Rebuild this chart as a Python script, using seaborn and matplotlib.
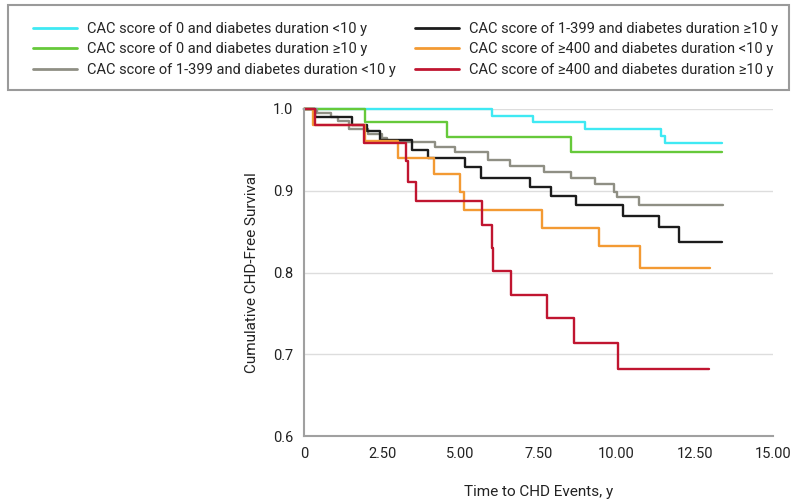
import matplotlib
matplotlib.use("Agg")
import matplotlib.pyplot as plt
from matplotlib.patches import Rectangle
import seaborn as sns
import pandas as pd

# Kaplan-Meier style step curves
labels = [
    "CAC score of 0 and diabetes duration <10 y",
    "CAC score of 0 and diabetes duration \u226510 y",
    "CAC score of 1-399 and diabetes duration <10 y",
    "CAC score of 1-399 and diabetes duration \u226510 y",
    "CAC score of \u2265400 and diabetes duration <10 y",
    "CAC score of \u2265400 and diabetes duration \u226510 y",
]
colors = ["#3fe9f3", "#66c93a", "#8f8f84", "#1c1c1c", "#f39a33", "#c01530"]

cac0_lt10_t = [0, 6.0, 7.33, 8.98, 11.43, 11.55, 13.38]
cac0_lt10_s = [1.0, 0.992, 0.984, 0.976, 0.967, 0.959, 0.959]

cac0_ge10_t = [0, 1.95, 4.57, 8.53, 13.38]
cac0_ge10_s = [1.0, 0.984, 0.966, 0.947, 0.947]

cac1_lt10_t = [0, 0.4, 0.85, 1.1, 1.45, 2.05, 2.5, 2.65, 4.19, 4.83, 5.88,
               6.59, 7.66, 8.53, 9.3, 9.9, 10.0, 10.7, 13.4]
cac1_lt10_s = [1.0, 0.995, 0.99, 0.985, 0.975, 0.97, 0.964, 0.96, 0.954, 0.948,
               0.938, 0.930, 0.923, 0.915, 0.908, 0.899, 0.892, 0.883, 0.883]

cac1_ge10_t = [0, 0.35, 1.52, 2.0, 2.43, 3.47, 3.97, 5.15, 5.65, 7.23, 7.89,
               8.69, 10.19, 11.35, 12.0, 13.37]
cac1_ge10_s = [1.0, 0.99, 0.981, 0.973, 0.962, 0.95, 0.94, 0.929, 0.916, 0.905,
               0.893, 0.882, 0.869, 0.856, 0.837, 0.837]

cac400_lt10_t = [0, 0.28, 1.95, 3.02, 4.16, 4.99, 5.12, 7.6, 9.43, 10.74, 12.98]
cac400_lt10_s = [1.0, 0.98, 0.961, 0.94, 0.92, 0.898, 0.876, 0.855, 0.832, 0.805, 0.805]

cac400_ge10_t = [0, 0.35, 1.92, 3.26, 3.34, 3.57, 5.7, 6.0, 6.05, 6.61, 7.76,
                 8.65, 10.05, 12.95]
cac400_ge10_s = [1.0, 0.981, 0.958, 0.936, 0.911, 0.8875, 0.858, 0.83, 0.802,
                 0.773, 0.744, 0.714, 0.682, 0.682]

x_ticks = [0, 2.5, 5, 7.5, 10, 12.5, 15]
x_ticklabels = ["0", "2.50", "5.00", "7.50", "10.00", "12.50", "15.00"]
y_ticks = [0.6, 0.7, 0.8, 0.9, 1.0]

curves = [
    (cac0_lt10_t, cac0_lt10_s),
    (cac0_ge10_t, cac0_ge10_s),
    (cac1_lt10_t, cac1_lt10_s),
    (cac1_ge10_t, cac1_ge10_s),
    (cac400_lt10_t, cac400_lt10_s),
    (cac400_ge10_t, cac400_ge10_s),
]
frames = []
for label, (t, s) in zip(labels, curves):
    frames.append(pd.DataFrame({"time": t, "surv": s, "group": label}))
df = pd.concat(frames, ignore_index=True)

sns.set_style("white")
plt.rcParams["font.family"] = ["Roboto", "DejaVu Sans"]

fig = plt.figure(figsize=(7.92, 5.03), dpi=100)
ax = fig.add_axes([304 / 792, 67 / 503, 469 / 792, 327 / 503])

sns.lineplot(data=df, x="time", y="surv", hue="group", hue_order=labels,
             palette=colors, estimator=None, drawstyle="steps-post",
             linewidth=1.7, ax=ax, legend=False)
for line in ax.lines:
    line.set_clip_on(False)

ax.set_xlim(0, 15)
ax.set_ylim(0.6, 1.0)
ax.set_xticks(x_ticks)
ax.set_xticklabels(x_ticklabels)
ax.set_yticks(y_ticks)
ax.yaxis.grid(True, color="#dddddd", linewidth=1)
ax.set_axisbelow(True)
for side in ["top", "right"]:
    ax.spines[side].set_visible(False)
for side in ["left", "bottom"]:
    ax.spines[side].set_color("#a0a0a0")
    ax.spines[side].set_linewidth(1.5)
ax.tick_params(axis="both", direction="out", length=5, width=1,
               color="#a0a0a0", labelsize=10.5, labelcolor="#222222", pad=3)
ax.set_xlabel("Time to CHD Events, y", fontsize=11, color="#222222", labelpad=17)
ax.set_ylabel("Cumulative CHD-Free Survival", fontsize=11, color="#222222", labelpad=10)

# legend, boxed across the top of the figure
handles = [plt.Line2D([], [], color=c, linewidth=2) for c in colors]
fig.legend(handles, labels, ncol=2, frameon=False, fontsize=10.5,
           loc="upper left", bbox_to_anchor=(27 / 792, 1 - 16 / 503),
           handlelength=3.0, handletextpad=0.7, columnspacing=1.35,
           labelspacing=0.45, borderaxespad=0)
fig.patches.append(Rectangle((8 / 792, 1 - 90 / 503), 781 / 792, 85 / 503,
                             transform=fig.transFigure, fill=False,
                             edgecolor="#9a9a9a", linewidth=1.5))

fig.savefig("out.png", dpi=100)
